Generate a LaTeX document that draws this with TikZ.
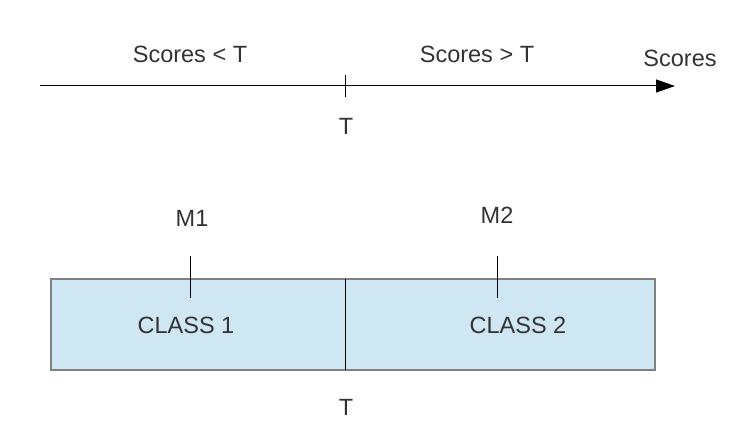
\documentclass[tikz,border=0pt]{standalone}
\usepackage{fontspec}
\setmainfont{Liberation Sans}
\usetikzlibrary{arrows.meta}
\definecolor{classfill}{RGB}{207,230,243}
\definecolor{labelgray}{RGB}{51,51,51}
\definecolor{boxedge}{RGB}{128,128,128}
\tikzset{
  lbl/.style={text=labelgray, font=\fontsize{23.5}{28}\selectfont, anchor=base, inner sep=0pt},
  tick/.style={line width=1pt, black}
}

\begin{document}
\begin{tikzpicture}[x=1pt,y=-1pt]
			%%%%% START %%%%%
			\useasboundingbox (0,0) rectangle (744,438);
			
			% score axis
			\coordinate (axstart) at (40,86);
			\coordinate (axend) at (675,86);
			\coordinate (tup) at (345,75);
			\coordinate (tdown) at (345,97);
			\draw[line width=1pt, -{Triangle[length=19pt,width=13pt]}] (axstart) -- (axend);
			\draw[tick] (tup) -- (tdown);
			
			\node[lbl] (below) at (190,63) {Scores < T};
			\node[lbl] (above) at (477,63) {Scores > T};
			\node[lbl] (scores) at (680,67) {Scores};
			\node[lbl] (tone) at (346,135) {T};
			
			% classes
			\draw[fill=classfill, draw=boxedge, line width=1.2pt] (51,279) rectangle (655,370);
			\coordinate (divtop) at (345,279);
			\coordinate (divbot) at (345,370);
			\draw[tick] (divtop) -- (divbot);
			
			\coordinate (mone) at (190,256);
			\coordinate (moneb) at (190,298);
			\coordinate (mtwo) at (497,256);
			\coordinate (mtwob) at (497,298);
			\draw[tick] (mone) -- (moneb);
			\draw[tick] (mtwo) -- (mtwob);
			
			\node[lbl] (mlabelone) at (192,227) {M1};
			\node[lbl] (mlabeltwo) at (497,224) {M2};
			\node[lbl] (classone) at (186,333) {CLASS 1};
			\node[lbl] (classtwo) at (518,333) {CLASS 2};
			\node[lbl] (ttwo) at (346,415) {T};
			
			%%%%% END %%%%%
\end{tikzpicture}
\end{document}
